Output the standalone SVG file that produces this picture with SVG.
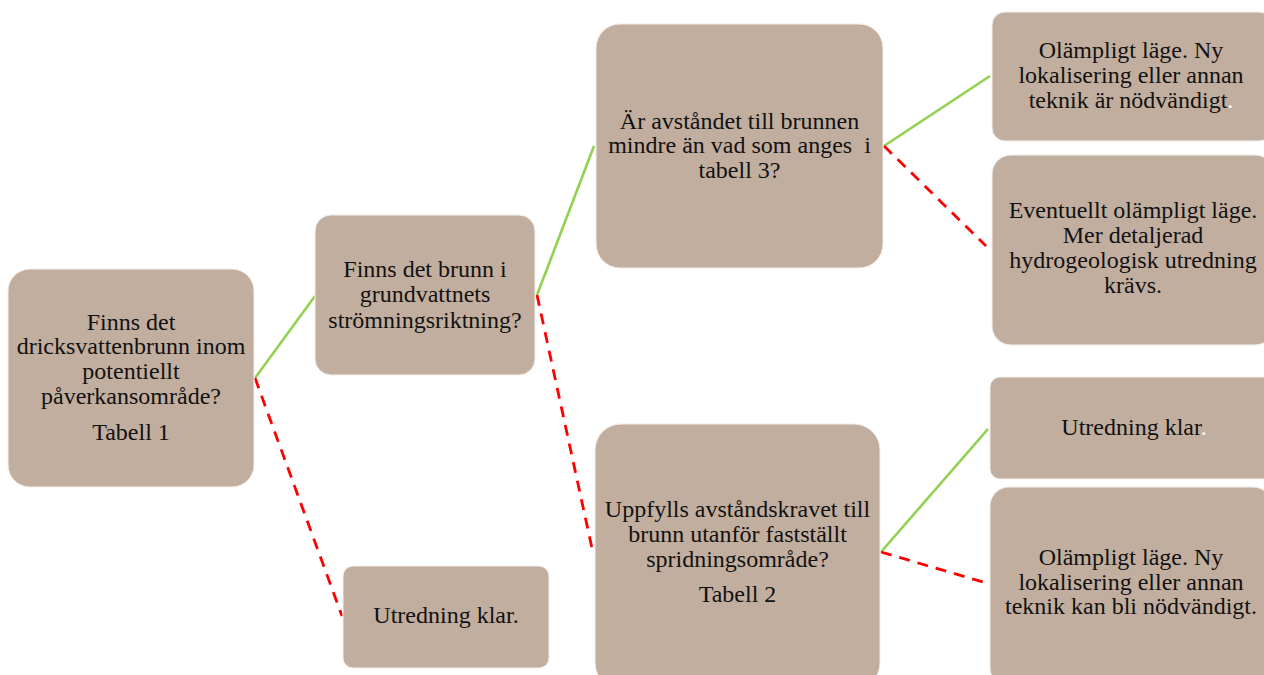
<svg xmlns="http://www.w3.org/2000/svg" width="1264" height="675" viewBox="0 0 1264 675">
<style>
.box{fill:#c2ae9f;stroke:#f3eee9;stroke-width:1}
text{font-family:"Liberation Serif","Times New Roman",serif;font-size:24px;fill:#111;text-anchor:middle}
.yes{stroke:#92d050;stroke-width:2.6;fill:none}
.no{stroke:#ff0000;stroke-width:2.8;fill:none;stroke-dasharray:11 8}
.w{fill:#ffffff}
</style>
<rect width="1264" height="675" fill="#ffffff"/>
<g id="connectors">
<line class="yes" x1="255" y1="378" x2="315" y2="296"/>
<line class="no" x1="255" y1="378" x2="342" y2="616"/>
<line class="yes" x1="537" y1="295" x2="594" y2="146"/>
<line class="no" x1="537" y1="295" x2="593" y2="553"/>
<line class="yes" x1="884" y1="146" x2="990" y2="76"/>
<line class="no" x1="884" y1="146" x2="986" y2="246"/>
<line class="yes" x1="881" y1="552" x2="988" y2="429"/>
<line class="no" x1="881" y1="552" x2="983" y2="582"/>
</g>
<g id="n1">
<rect class="box" x="8" y="269" width="246" height="218" rx="22"/>
<text x="131" y="330">Finns det</text>
<text x="131" y="354">dricksvattenbrunn inom</text>
<text x="131" y="379">potentiellt</text>
<text x="131" y="404">påverkansområde?</text>
<text x="131" y="440">Tabell 1</text>
</g>
<g id="n2">
<rect class="box" x="315" y="215" width="220" height="160" rx="16"/>
<text x="425" y="277">Finns det brunn i</text>
<text x="425" y="302">grundvattnets</text>
<text x="425" y="328">strömningsriktning?</text>
</g>
<g id="n3">
<rect class="box" x="596" y="24" width="287" height="244" rx="24"/>
<text x="739.5" y="129">Är avståndet till brunnen</text>
<text x="739.5" y="153">mindre än vad som anges&#160; i</text>
<text x="739.5" y="178">tabell 3?</text>
</g>
<g id="n4">
<rect class="box" x="992" y="12" width="280" height="129" rx="13"/>
<text x="1131" y="58">Olämpligt läge. Ny</text>
<text x="1131" y="83">lokalisering eller annan</text>
<text x="1131" y="108">teknik är nödvändigt<tspan class="w">.</tspan></text>
</g>
<g id="n5">
<rect class="box" x="992" y="155" width="282" height="190" rx="19"/>
<text x="1133" y="218">Eventuellt olämpligt läge.</text>
<text x="1133" y="243">Mer detaljerad</text>
<text x="1133" y="268">hydrogeologisk utredning</text>
<text x="1133" y="293">krävs.</text>
</g>
<g id="n6">
<rect class="box" x="990" y="377" width="284" height="102" rx="10"/>
<text x="1134" y="435">Utredning klar<tspan class="w">.</tspan></text>
</g>
<g id="n7">
<rect class="box" x="990" y="487" width="282" height="200" rx="19"/>
<text x="1131" y="565">Olämpligt läge. Ny</text>
<text x="1131" y="590">lokalisering eller annan</text>
<text x="1131" y="614">teknik kan bli nödvändigt.</text>
</g>
<g id="n8">
<rect class="box" x="595" y="424" width="285" height="265" rx="26"/>
<text x="737.5" y="517">Uppfylls avståndskravet till</text>
<text x="737.5" y="542">brunn utanför fastställt</text>
<text x="737.5" y="567">spridningsområde?</text>
<text x="737.5" y="602">Tabell 2</text>
</g>
<g id="n9">
<rect class="box" x="343" y="566" width="206" height="102" rx="10"/>
<text x="446" y="623">Utredning klar.</text>
</g>
</svg>
